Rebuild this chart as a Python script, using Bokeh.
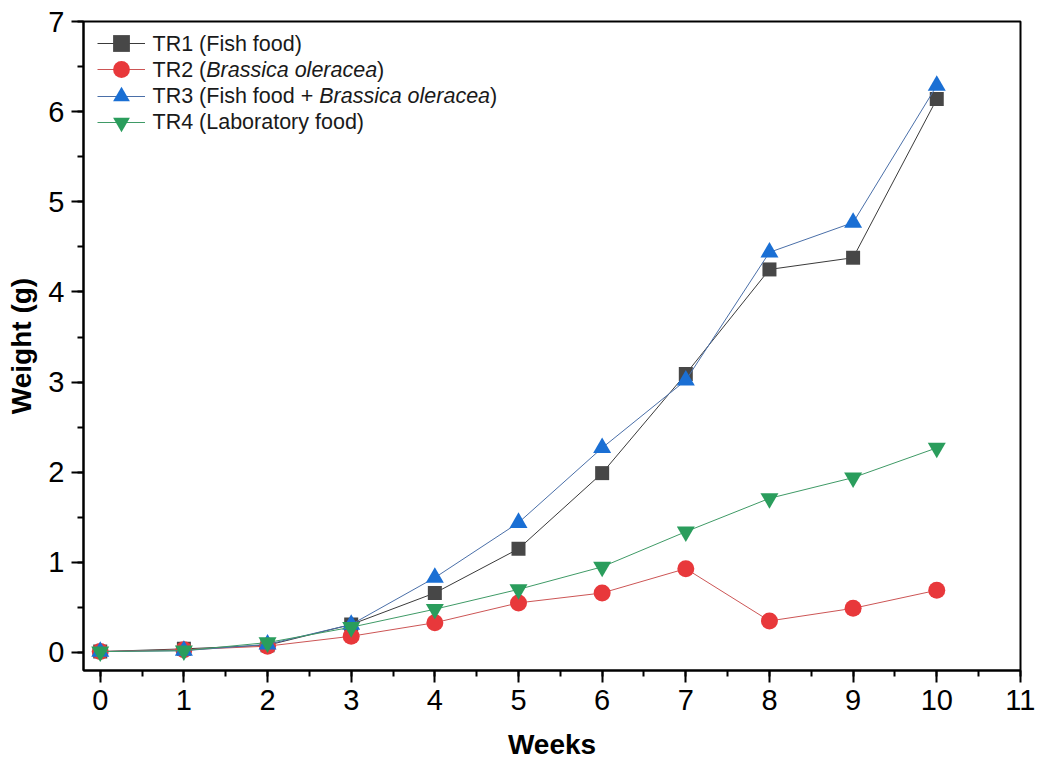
from bokeh.plotting import figure
from bokeh.models import (Range1d, SingleIntervalTicker, Legend, LegendItem, Label)
from bokeh.embed import file_html
from bokeh.resources import INLINE

# Mean body weight (g) per week for each feeding treatment
weeks = [0, 1, 2, 3, 4, 5, 6, 7, 8, 9, 10]
tr1_fish_food = [0.01, 0.04, 0.08, 0.31, 0.66, 1.15, 1.99, 3.09, 4.25, 4.38, 6.14]
tr2_brassica = [0.01, 0.03, 0.07, 0.18, 0.33, 0.55, 0.66, 0.93, 0.35, 0.49, 0.69]
tr3_fish_brassica = [0.01, 0.02, 0.09, 0.31, 0.83, 1.44, 2.27, 3.02, 4.44, 4.77, 6.29]
tr4_lab_food = [0.01, 0.02, 0.11, 0.28, 0.48, 0.70, 0.95, 1.34, 1.71, 1.94, 2.27]

# Legend text: (plain, italic) segments per treatment
legend_parts = [
    [("TR1 (Fish food)", False)],
    [("TR2 (", False), ("Brassica oleracea", True), (")", False)],
    [("TR3 (Fish food + ", False), ("Brassica oleracea", True), (")", False)],
    [("TR4 (Laboratory food)", False)],
]

FONT = "Liberation Sans"
X0, X1 = -0.2, 11.0
Y0, Y1 = -0.2, 7.0
FRAME_W, FRAME_H = 937, 649

p = figure(width=1038, height=767, output_backend="svg", toolbar_location=None,
           x_range=Range1d(X0, X1 + 0.001), y_range=Range1d(Y0, Y1 + 0.001),
           min_border_left=83, min_border_right=18, min_border_top=21,
           min_border_bottom=97)
p.frame_width = FRAME_W
p.frame_height = FRAME_H
p.background_fill_color = "white"
p.border_fill_color = "white"
p.outline_line_color = "black"
p.outline_line_width = 2
p.xgrid.visible = False
p.ygrid.visible = False

for ax in (p.xaxis[0], p.yaxis[0]):
    ax.ticker = SingleIntervalTicker(interval=1, num_minor_ticks=2)
    ax.axis_line_width = 2
    ax.axis_line_color = "black"
    ax.major_tick_line_width = 2
    ax.minor_tick_line_width = 2
    ax.major_tick_out = 12
    ax.major_tick_in = 0
    ax.minor_tick_out = 6
    ax.minor_tick_in = 0
    ax.major_label_text_font = FONT
    ax.major_label_text_font_size = "29px"
    ax.major_label_text_color = "black"
    ax.major_label_standoff = 7
    ax.axis_label_text_font = FONT
    ax.axis_label_text_font_style = "bold"
    ax.axis_label_text_font_size = "28px"
    ax.axis_label_text_color = "black"

p.xaxis.axis_label = "Weeks"
p.xaxis.axis_label_standoff = 16
p.yaxis.axis_label = "Weight (g)"
p.yaxis.axis_label_standoff = 8

series = [
    (tr1_fish_food, "square", 14, "#474747", "#3a3a3a"),
    (tr2_brassica, "circle", 17, "#e8383b", "#cc5555"),
    (tr3_fish_brassica, "triangle", 18, "#1a6fd4", "#4a6fa8"),
    (tr4_lab_food, "inverted_triangle", 18, "#2a9d5c", "#3f9a66"),
]

items = []
for vals, marker, size, mcol, lcol in series:
    ln = p.line(weeks, vals, line_color=lcol, line_width=1)
    sc = p.scatter(weeks, vals, marker=marker, size=size,
                   fill_color=mcol, line_color=None)
    items.append((ln, sc))

# One single-row legend per treatment: a tall glyph cell gives full-size
# markers while the rows stay tightly packed
ROW0, ROW_PITCH, CELL_H = 22, 26.3, 42
for row, rends in enumerate(items):
    centre_from_top = ROW0 + ROW_PITCH * row
    bottom = FRAME_H - (centre_from_top + CELL_H / 2)
    p.add_layout(Legend(
        items=[LegendItem(label=" ", renderers=list(rends))],
        location=(14, round(bottom)), margin=0, padding=0, spacing=0,
        glyph_width=48, glyph_height=CELL_H, label_height=CELL_H,
        label_standoff=0, label_text_font_size="10px",
        border_line_color=None, background_fill_alpha=0,
    ))

# Arial / Liberation Sans advance widths (per 1000 em)
ADV = {" ": 278, "(": 333, ")": 333, "+": 584, "1": 556, "2": 556, "3": 556,
       "4": 556, "B": 667, "F": 611, "L": 556, "R": 722, "T": 611, "a": 556,
       "b": 556, "c": 500, "d": 556, "e": 556, "f": 278, "h": 556, "i": 222,
       "l": 222, "o": 556, "r": 333, "s": 500, "t": 278, "y": 500}
LEG_FS = 21.5


def text_width(s):
    return sum(ADV.get(ch, 556) for ch in s) * LEG_FS / 1000.0


def data_x(px):
    return X0 + px * (X1 - X0) / FRAME_W


def data_y(px):
    return Y1 - px * (Y1 - Y0) / FRAME_H


text_left = 69
for row, parts in enumerate(legend_parts):
    cy = ROW0 + ROW_PITCH * row
    offset = 0.0
    for txt, italic in parts:
        p.add_layout(Label(x=data_x(text_left), y=data_y(cy), x_offset=offset,
                           text=txt, text_font=FONT, text_font_size="21.5px",
                           text_font_style="italic" if italic else "normal",
                           text_color="#1a1a1a", text_baseline="middle",
                           text_align="left"))
        offset += text_width(txt)

open("out.html", "w").write(file_html(p, INLINE))
